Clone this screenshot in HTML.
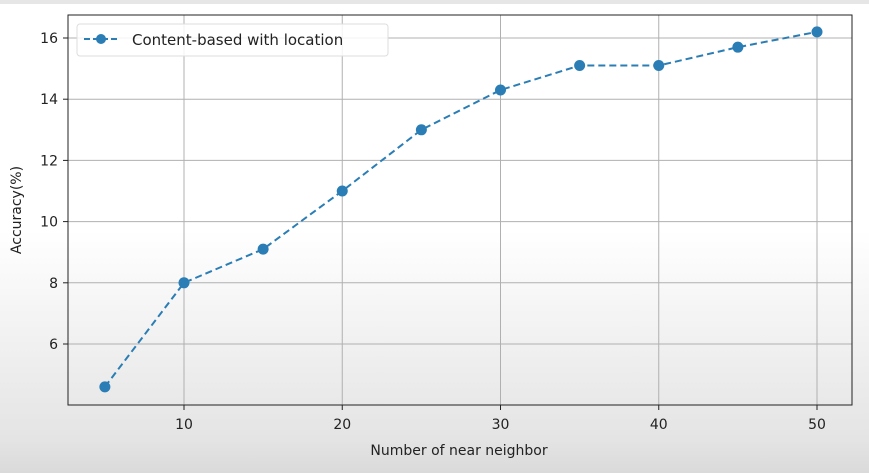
<!DOCTYPE html>
<html><head><meta charset="utf-8"><style>
html,body{margin:0;padding:0;}
body{width:869px;height:473px;overflow:hidden;background:linear-gradient(to bottom,#fff 0px,#fff 230px,#e4e4e4 440px,#dadada 473px);font-family:"DejaVu Sans","Liberation Sans",sans-serif;}
svg{position:absolute;left:0;top:0;}
</style></head><body>
<svg width="869" height="473">
<rect x="0" y="0" width="869" height="4" fill="#e6e6e6"/>
<g id="grid"></g>
<g id="axes"></g>
<g id="series"></g>
<rect x="68" y="15" width="784" height="390" fill="none" stroke="#222" stroke-width="1"/>
<text x="459" y="455" text-anchor="middle" font-size="14" fill="#222">Number of near neighbor</text>
<text transform="translate(21,210) rotate(-90)" text-anchor="middle" font-size="14" fill="#222">Accuracy(%)</text>
<g>
<rect x="77" y="24" width="311" height="32" rx="3" fill="#fff" fill-opacity="0.85" stroke="#ddd"/>
<line x1="84" y1="39" x2="118" y2="39" stroke="#2a7db5" stroke-width="2" stroke-dasharray="6,3"/>
<circle cx="101" cy="39" r="5" fill="#2a7db5"/>
<text x="132" y="45" font-size="15" fill="#222">Content-based with location</text>
</g>
</svg>
<script>
const xValues=[5,10,15,20,25,30,35,40,45,50];
const accuracy=[4.6,8.0,9.1,11.0,13.0,14.3,15.1,15.1,15.7,16.2];
const xTicks=[10,20,30,40,50];
const yTicks=[6,8,10,12,14,16];
const NS="http://www.w3.org/2000/svg";
function sx(v){return 184+(v-10)*(817-184)/40;}
function sy(v){return 344-(v-6)*(344-38)/10;}
function mk(tag,attrs,parent){const e=document.createElementNS(NS,tag);for(const k in attrs)e.setAttribute(k,attrs[k]);parent.appendChild(e);return e;}
const grid=document.getElementById('grid'),axes=document.getElementById('axes'),ser=document.getElementById('series');
xTicks.forEach(t=>{
 const g=mk('line',{x1:sx(t),x2:sx(t),y1:15,y2:405,stroke:'#b0b0b0','stroke-width':1},grid);
 
 
 const tk=mk('line',{x1:sx(t),x2:sx(t),y1:405,y2:410,stroke:'#222'},axes);
 
 
 const tx=mk('text',{x:sx(t),y:429,'text-anchor':'middle','font-size':14,fill:'#222'},axes);
 tx.textContent=t;
 
 
});
yTicks.forEach(t=>{
 const g=mk('line',{x1:68,x2:852,y1:sy(t),y2:sy(t),stroke:'#b0b0b0','stroke-width':1},grid);
 
 
 const tk=mk('line',{x1:63,x2:68,y1:sy(t),y2:sy(t),stroke:'#222'},axes);
 
 
 const tx=mk('text',{x:58,y:sy(t)+5,'text-anchor':'end','font-size':14,fill:'#222'},axes);
 tx.textContent=t;
 
 
});
const pts=xValues.map((x,i)=>sx(x)+','+sy(accuracy[i])).join(' ');
const pl=mk('polyline',{points:pts,fill:'none',stroke:'#2a7db5','stroke-width':2,'stroke-dasharray':'7,4'},ser);


xValues.forEach((x,i)=>{
 const c=mk('circle',{cx:sx(x),cy:sy(accuracy[i]),r:5.5,fill:'#2a7db5'},ser);
 
 
});
</script>
</body></html>
